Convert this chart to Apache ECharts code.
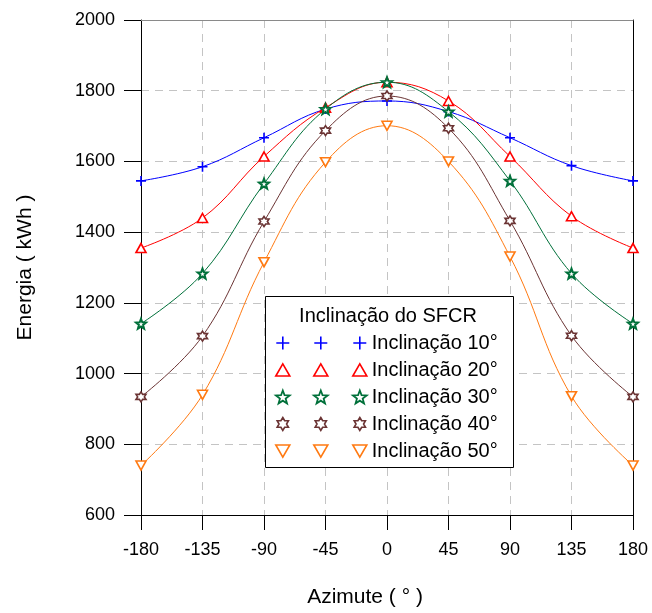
<!DOCTYPE html>
<html><head><meta charset="utf-8">
<script src="https://cdn.jsdelivr.net/npm/echarts@6/dist/echarts.min.js"></script>
<style>html,body{margin:0;padding:0;background:#fff}#c{width:652px;height:613px}</style>
</head><body><div id="c"></div>
<script>
const azimuths = [-180, -135, -90, -45, 0, 45, 90, 135, 180];
const incl10 = [1545, 1585, 1667, 1748, 1771, 1741, 1667, 1588, 1545];
const incl20 = [1355, 1440, 1614, 1752, 1824, 1771, 1614, 1445, 1355];
const incl30 = [1141, 1283, 1537, 1748, 1824, 1741, 1545, 1283, 1141];
const incl40 = [934, 1106, 1430, 1687, 1785, 1694, 1432, 1107, 934];
const incl50 = [740, 940, 1315, 1598, 1701, 1600, 1331, 936, 740];
const seriesNames = ['Inclinação 10°', 'Inclinação 20°', 'Inclinação 30°', 'Inclinação 40°', 'Inclinação 50°'];
const legendTitle = 'Inclinação do SFCR';
const yTicks = {min: 600, max: 2000, interval: 200};
const xTicks = {min: -180, max: 180, interval: 45};

const FONT = 'Liberation Sans, Arial, sans-serif';
const colors = ['#0000ff', '#ff0000', '#00703a', '#6b3434', '#ff7a12'];
const symbols = [
  'path://M0,5L10,5M5,0L5,10',
  'path://M5,0L10,8.66L0,8.66Z',
  'path://M5,0L6.23,3.3L9.76,3.45L7,5.65L7.94,9.05L5,7.1L2.06,9.05L3,5.65L0.24,3.45L3.77,3.3Z',
  'path://M5,0L6.44,2.5L9.33,2.5L7.89,5L9.33,7.5L6.44,7.5L5,10L3.56,7.5L0.67,7.5L2.11,5L0.67,2.5L3.56,2.5Z',
  'path://M0,0L10,0L5,8.66Z'
];
const fills = ['#0000ff', '#ffffff', '#ffffff', '#ffffff', '#ffffff'];
const values = [incl10, incl20, incl30, incl40, incl50];

const series = values.map((v, i) => ({
  name: seriesNames[i],
  type: 'line',
  smooth: 0.4,
  data: azimuths.map((a, j) => [a, v[j]]),
  symbol: symbols[i],
  symbolSize: (i === 1 || i === 4) ? [10, 9] : 10,
  showAllSymbol: true,
  lineStyle: {color: colors[i], width: 1},
  itemStyle: {color: fills[i], borderColor: colors[i], borderWidth: i === 2 ? 2 : 1.6},
  emphasis: {disabled: true},
  z: 5
}));

const legendSizes = [[15, 15], [15, 13], [14, 14], [13, 14], [15, 13]];
const legendData = seriesNames.map((n, i) => ({
  name: n, icon: symbols[i],
  itemStyle: {color: fills[i], borderColor: colors[i], borderWidth: i === 2 ? 1.8 : 1.6}
}));
function mkLegend(left, showText) {
  return {
    orient: 'vertical', left: left, top: 333, padding: 0, z: 8,
    itemWidth: 14, itemHeight: 13, itemGap: 7, itemTextGap: 10,
    data: legendData,
    formatter: showText ? (n => n) : (() => ''),
    textStyle: {fontFamily: FONT, fontSize: 20, color: '#000', lineHeight: 20, height: 20},
    selectedMode: false
  };
}

const chart = echarts.init(document.getElementById('c'), null, {renderer: 'canvas'});
chart.setOption({
  animation: false,
  backgroundColor: '#fff',
  grid: {left: 141, right: 19, top: 20, bottom: 94},
  title: {
    text: legendTitle, left: 388, top: 306, textAlign: 'center', padding: 0, z: 8,
    textStyle: {fontFamily: FONT, fontSize: 20, fontWeight: 'normal', color: '#000'}
  },
  xAxis: [{
    type: 'value', min: xTicks.min, max: xTicks.max, interval: xTicks.interval,
    name: 'Azimute ( ° )', nameLocation: 'middle', nameGap: 72,
    nameTextStyle: {fontFamily: FONT, fontSize: 21, color: '#000', padding: [0, 44, 0, 0]},
    axisLine: {onZero: false, lineStyle: {color: '#000', width: 1}},
    axisTick: {show: true, inside: false, length: 15, lineStyle: {color: '#000'}},
    axisLabel: {fontFamily: FONT, fontSize: 18, color: '#000', margin: 26},
    splitLine: {show: true, lineStyle: {color: '#c4c4c4', type: [8, 6], width: 1}}
  }, {
    type: 'value', position: 'top', min: xTicks.min, max: xTicks.max, interval: xTicks.interval,
    axisLine: {show: true, onZero: false, lineStyle: {color: '#8a8a8a', width: 1}},
    axisTick: {show: false}, axisLabel: {show: false}, splitLine: {show: false}
  }],
  yAxis: [{
    type: 'value', min: yTicks.min, max: yTicks.max, interval: yTicks.interval,
    name: 'Energia ( kWh )', nameLocation: 'middle', nameGap: 105,
    nameTextStyle: {fontFamily: FONT, fontSize: 21, color: '#000'},
    axisLine: {show: true, onZero: false, lineStyle: {color: '#000', width: 1}},
    axisTick: {show: true, inside: false, length: 17, lineStyle: {color: '#000'}},
    axisLabel: {fontFamily: FONT, fontSize: 18, color: '#000', margin: 26, formatter: v => String(v)},
    splitLine: {show: true, lineStyle: {color: '#c4c4c4', type: [8, 6], width: 1}}
  }, {
    type: 'value', position: 'right', min: yTicks.min, max: yTicks.max, interval: yTicks.interval,
    axisLine: {show: true, onZero: false, lineStyle: {color: '#000', width: 1}},
    axisTick: {show: false}, axisLabel: {show: false}, splitLine: {show: false}
  }],
  legend: [mkLegend(275, false), mkLegend(313, false), mkLegend(352, true)],
  graphic: [
    {type: 'rect', left: 265, top: 296, z: 4, silent: true,
     shape: {width: 248, height: 171},
     style: {fill: '#fff', stroke: '#000', lineWidth: 1}}
  ],
  series: series
});
</script></body></html>
